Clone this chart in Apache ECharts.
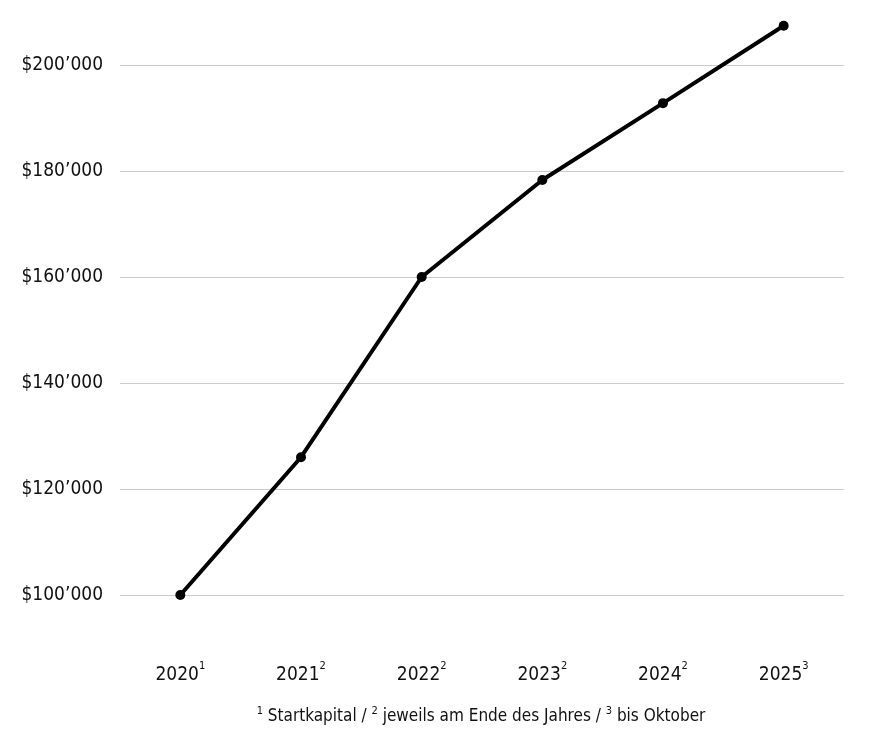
<!DOCTYPE html>
<html><head><meta charset="utf-8">
<script src="https://cdn.jsdelivr.net/npm/echarts@6/dist/echarts.min.js"></script>
<style>html,body{margin:0;padding:0;background:#fff}#c{width:880px;height:750px}</style>
</head><body><div id="c"></div>
<script>
const years = ['2020','2021','2022','2023','2024','2025'];
const notes = ['1','2','2','2','2','3'];
const values = [100000, 126000, 160000, 178300, 192800, 207400];
const yTicks = [100000, 120000, 140000, 160000, 180000, 200000];
const footnote = [['1','Startkapital / '],['2','jeweils am Ende des Jahres / '],['3','bis Oktober']];

const FONT = '"Liberation Sans Narrow","DejaVu Sans Condensed","Roboto",sans-serif';
const chart = echarts.init(document.getElementById('c'), null, {renderer:'canvas'});
const cats = years.map((y,i)=>y+'|'+notes[i]);
const fmt = v => '$' + String(v/1000) + '’000';

let fnRich = '';
footnote.forEach((f,i)=>{ fnRich += '{s|'+f[0]+'}{t|'+(i?' ':' ')+f[1]+'}'; });

chart.setOption({
  animation:false,
  textStyle:{fontFamily:FONT},
  grid:{left:120, right:36, top:65, bottom:155, containLabel:false},
  xAxis:{
    type:'category', data:cats, boundaryGap:true,
    axisLine:{show:false}, axisTick:{show:false},
    axisLabel:{
      margin:66,
      formatter: v => { const p=v.split('|'); return '{y|'+p[0]+'}{s|'+p[1]+'}'; },
      rich:{
        y:{fontFamily:FONT, fontSize:19, color:'#111', verticalAlign:'bottom', lineHeight:24},
        s:{fontFamily:FONT, fontSize:11, color:'#111', verticalAlign:'top', lineHeight:24, padding:[0,0,10,0]}
      }
    }
  },
  yAxis:{
    type:'value', min:100000, max:200000, interval:20000,
    axisLine:{show:false}, axisTick:{show:false},
    splitLine:{lineStyle:{color:'#cccccc', width:1}},
    axisLabel:{margin:17, fontFamily:FONT, fontSize:19, color:'#111', formatter: fmt}
  },
  graphic:[{
    type:'text', x:481, y:706,
    style:{
      text:fnRich, align:'center',
      rich:{
        s:{fontFamily:FONT, fontSize:11, fill:'#111', verticalAlign:'top', lineHeight:22, padding:[0,0,8,0]},
        t:{fontFamily:FONT, fontSize:17, fill:'#111', lineHeight:22}
      }
    }
  }],
  series:[{
    type:'line', data:values, clip:false,
    symbol:'circle', symbolSize:10,
    lineStyle:{color:'#000', width:4},
    itemStyle:{color:'#000'}
  }]
});
</script></body></html>
